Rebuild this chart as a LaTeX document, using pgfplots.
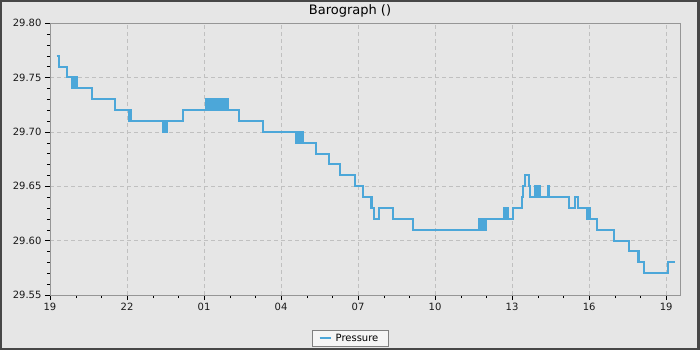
\documentclass[border=0pt]{standalone}
\usepackage{fontspec}
\setmainfont{DejaVu Sans}
\usepackage{pgfplots}
\pgfplotsset{compat=1.18}
\definecolor{bg}{RGB}{230,230,230}
\definecolor{framec}{RGB}{71,71,71}
\definecolor{linec}{RGB}{76,167,217}
\definecolor{gridc}{RGB}{192,192,192}
\definecolor{axc}{RGB}{150,150,150}
\begin{document}
\begin{tikzpicture}[x=1pt,y=1pt]
\fill[framec] (0,0) rectangle (700,350);
\fill[bg] (2,2) rectangle (697,348);
\useasboundingbox (0,0) rectangle (700,350);
\node[font=\fontsize{13}{15}\selectfont] at (350,339) {Barograph ()};
\begin{axis}[at={(50pt,55pt)}, anchor=south west, scale only axis,
  width=630pt, height=272pt,
  xmin=0, xmax=24.54, ymin=29.55, ymax=29.80,
  xtick={0,3,6,9,12,15,18,21,24},
  xticklabels={19,22,01,04,07,10,13,16,19},
  minor x tick num=2,
  ytick={29.55,29.60,29.65,29.70,29.75,29.80},
  minor y tick num=4,
  yticklabel style={/pgf/number format/.cd, fixed, fixed zerofill, precision=2},
  /pgf/number format/assume math mode=true,
  ticklabel style={font=\fontsize{10}{12}\selectfont, black!90},
  tick align=outside, major tick length=5pt, minor tick length=3pt,
  tick pos=left,
  axis line style={axc},
  tick style={black},
  grid=major, grid style={gridc, dash pattern=on 4pt off 3pt},
  axis background/.style={fill=bg},
  legend style={at={(0.477,-0.127)}, anchor=north, draw=gray, fill=white!96!black,
    font=\fontsize{10}{12}\selectfont, inner xsep=6pt, inner ysep=2pt,
    nodes={inner xsep=4pt, inner ysep=2pt}},
  legend image code/.code={\draw[#1, line width=2pt] (0pt,0pt) -- (11pt,0pt);},
]
\addplot[const plot, linec, line width=2pt] coordinates {
(0.261,29.77) (0.339,29.76) (0.643,29.75)
(0.869,29.74) (0.90,29.75) (0.93,29.74) (0.96,29.75) (0.99,29.74) (1.02,29.75) (1.05,29.74)
(1.636,29.73) (2.544,29.72)
(3.09,29.71) (3.11,29.72) (3.144,29.71)
(4.414,29.70) (4.44,29.71) (4.47,29.70) (4.50,29.71) (4.52,29.70) (4.547,29.71)
(5.170,29.72)
(6.066,29.73) (6.10,29.72) (6.13,29.73) (6.16,29.72) (6.19,29.73) (6.22,29.72) (6.25,29.73) (6.273,29.72)
(6.362,29.73) (6.39,29.72) (6.41,29.73) (6.429,29.72)
(6.518,29.73) (6.55,29.72) (6.575,29.73) (6.596,29.72)
(6.635,29.73) (6.665,29.72) (6.695,29.73) (6.725,29.72) (6.755,29.73) (6.785,29.72) (6.815,29.73) (6.845,29.72) (6.875,29.73) (6.90,29.72) (6.923,29.73)
(6.95,29.72)
(7.352,29.71) (8.310,29.70)
(9.573,29.69) (9.60,29.70) (9.63,29.69) (9.66,29.70) (9.69,29.69) (9.72,29.70) (9.75,29.69) (9.78,29.70) (9.81,29.69) (9.84,29.70) (9.869,29.69)
(10.364,29.68) (10.870,29.67) (11.299,29.66) (11.883,29.65) (12.207,29.64)
(12.495,29.63) (12.52,29.64) (12.55,29.63)
(12.623,29.62) (12.830,29.63) (13.375,29.62) (14.154,29.61)
(16.726,29.62) (16.755,29.61) (16.785,29.62) (16.815,29.61) (16.845,29.62) (16.875,29.61) (16.905,29.62) (16.935,29.61) (16.975,29.62)
(17.70,29.63) (17.73,29.62) (17.76,29.63) (17.79,29.62) (17.82,29.63) (17.844,29.62)
(18.019,29.63) (18.378,29.64) (18.440,29.65) (18.506,29.66) (18.662,29.65) (18.701,29.64)
(18.896,29.65) (18.925,29.64) (18.955,29.65) (18.985,29.64) (19.015,29.65) (19.045,29.64) (19.07,29.65) (19.091,29.64)
(19.391,29.65) (19.442,29.64)
(20.221,29.63) (20.455,29.64) (20.584,29.63)
(20.911,29.62) (20.94,29.63) (20.97,29.62) (21.00,29.63) (21.039,29.62)
(21.324,29.61) (21.986,29.60) (22.570,29.59)
(22.909,29.58) (22.935,29.59) (22.96,29.58)
(23.155,29.57) (24.066,29.58) (24.351,29.58)
};
\addlegendentry{Pressure}
\end{axis}
\end{tikzpicture}
\end{document}
